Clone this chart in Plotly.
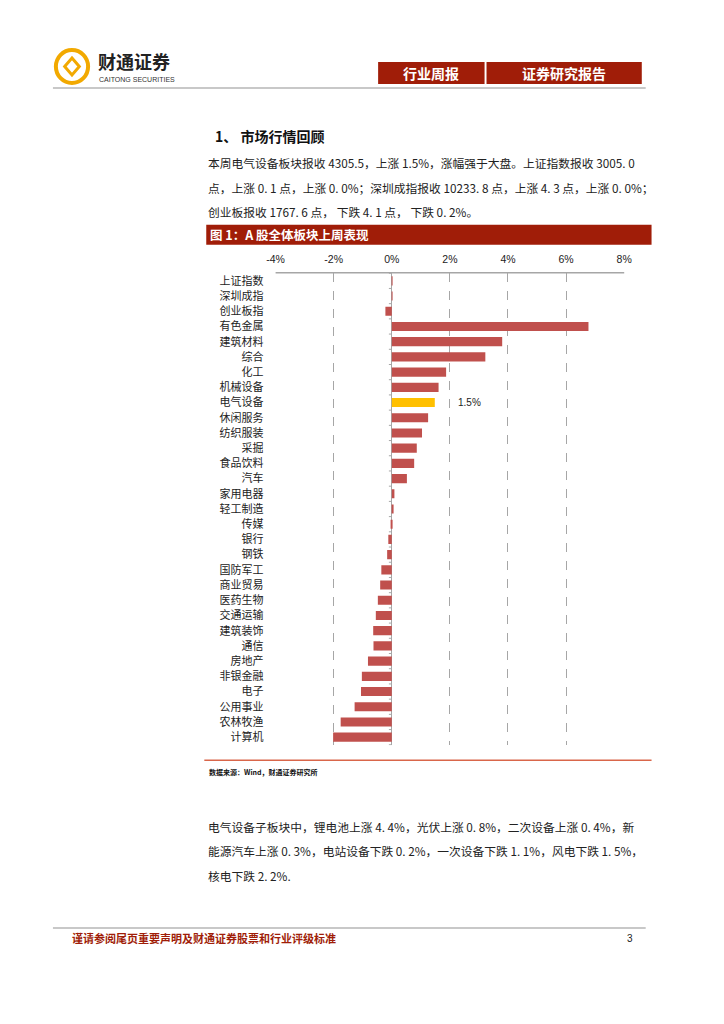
import plotly.graph_objects as go

W, H = 724, 1024

categories = ["上证指数", "深圳成指", "创业板指", "有色金属", "建筑材料", "综合", "化工",
              "机械设备", "电气设备", "休闲服务", "纺织服装", "采掘", "食品饮料", "汽车",
              "家用电器", "轻工制造", "传媒", "银行", "钢铁", "国防军工", "商业贸易",
              "医药生物", "交通运输", "建筑装饰", "通信", "房地产", "非银金融", "电子",
              "公用事业", "农林牧渔", "计算机"]
values = [0.02, 0.02, -0.22, 6.77, 3.80, 3.22, 1.87, 1.61, 1.48, 1.25, 1.04, 0.86, 0.77,
          0.52, 0.09, 0.03, -0.04, -0.12, -0.16, -0.36, -0.40, -0.48, -0.55, -0.64, -0.63,
          -0.82, -1.03, -1.06, -1.28, -1.76, -2.02]
highlight = "电气设备"
highlight_label = "1.5%"
x_ticks = [-4, -2, 0, 2, 4, 6, 8]
x_tick_text = ["-4%", "-2%", "0%", "2%", "4%", "6%", "8%"]

RED = "#C0504D"
GOLD = "#FFC000"
DARKRED = "#A01D08"
CJK = "Noto Sans CJK SC"


def px(x):
    return x / W


def py(y):
    return 1 - y / H


colors = [GOLD if c == highlight else RED for c in categories]

fig = go.Figure()
fig.add_trace(go.Bar(
    x=values, y=categories, orientation="h",
    marker=dict(color=colors, line=dict(width=0)),
    width=0.6, hoverinfo="x+y",
))

shapes = []
annotations = []


def text(x, y, t, size, color="#222222", family=CJK, xanchor="left"):
    if xanchor == "left":
        x -= 4
    annotations.append(dict(x=px(x), y=py(y), xref="paper", yref="paper",
                            xanchor=xanchor, yanchor="middle", text=t, showarrow=False,
                            borderpad=0, font=dict(family=family, size=size, color=color)))


# header: logo
shapes.append(dict(type="circle", xref="paper", yref="paper",
                   x0=px(48), x1=px(81), y0=py(82), y1=py(49),
                   line=dict(color="#F2A900", width=4)))
shapes.append(dict(type="path", xref="paper", yref="paper",
                   path=f"M {px(64.5)} {py(57)} L {px(72)} {py(65.5)} L {px(64.5)} {py(74)} L {px(57)} {py(65.5)} Z",
                   line=dict(color="#F2A900", width=3), fillcolor="white"))
text(94, 60, "<b>财通证券</b>", 18, "#222222")
text(95, 79, "CAITONG SECURITIES", 7, "#333333", "Liberation Sans")
# header red boxes
for x0, x1, txt in [(378, 487, "行业周报"), (489, 648, "证券研究报告")]:
    shapes.append(dict(type="rect", xref="paper", yref="paper", x0=px(x0), x1=px(x1),
                       y0=py(83), y1=py(61), fillcolor=DARKRED, line=dict(width=0)))
    text((x0 + x1) / 2, 72, f"<b>{txt}</b>", 14, "white", xanchor="center")
shapes.append(dict(type="line", xref="paper", yref="paper", x0=px(45), x1=px(652),
                   y0=py(87), y1=py(87), line=dict(color="#C8C8C8", width=2)))

# section title
text(214, 135, "<b>1、 市场行情回顾</b>", 14, "#111111")
para1 = ["本周电气设备板块报收 4305.5，上涨 1.5%，涨幅强于大盘。上证指数报收 3005. 0",
         "点，上涨 0. 1 点，上涨 0. 0%；深圳成指报收 10233. 8 点，上涨 4. 3 点，上涨 0. 0%；",
         "创业板报收 1767. 6 点， 下跌 4. 1 点， 下跌 0. 2%。"]
for i, line in enumerate(para1):
    text(207, 162 + i * 24.5, line, 11.75)

# figure title bar
shapes.append(dict(type="rect", xref="paper", yref="paper", x0=px(202), x1=px(658),
                   y0=py(244), y1=py(224), fillcolor=DARKRED, line=dict(width=0)))
text(209, 234, "<b>图 1：A 股全体板块上周表现</b>", 12.5, "white")

# chart frame top line
shapes.append(dict(type="line", xref="paper", yref="paper", x0=px(273), x1=px(630),
                   y0=py(272), y1=py(272), line=dict(color="#A6A6A6", width=1.5)))
# small tick marks on the zero axis at category boundaries
for k in range(len(categories) + 1):
    shapes.append(dict(type="line", xref="x", yref="y", x0=-0.1, x1=0,
                       y0=k - 0.5, y1=k - 0.5, line=dict(color="#A6A6A6", width=1)))

# highlight label
hi = categories.index(highlight)
annotations.append(dict(x=2.2, y=categories[hi], xref="x", yref="y", xanchor="left", yanchor="middle",
                        text=highlight_label, showarrow=False,
                        font=dict(family="Liberation Sans", size=10, color="#222222")))

# source line
shapes.append(dict(type="line", xref="paper", yref="paper", x0=px(200), x1=px(658),
                   y0=py(760), y1=py(760), line=dict(color="#D9664A", width=1.5)))
text(208, 772, "<b>数据来源：Wind，财通证券研究所</b>", 7, "#111111")

para2 = ["电气设备子板块中，锂电池上涨 4. 4%，光伏上涨 0. 8%，二次设备上涨 0. 4%，新",
         "能源汽车上涨 0. 3%，电站设备下跌 0. 2%，一次设备下跌 1. 1%，风电下跌 1. 5%，",
         "核电下跌 2. 2%."]
for i, line in enumerate(para2):
    text(207, 826 + i * 24.5, line, 11.75)

# footer
shapes.append(dict(type="line", xref="paper", yref="paper", x0=px(45), x1=px(652),
                   y0=py(928), y1=py(928), line=dict(color="#C8C8C8", width=2)))
text(68, 938, "<b>谨请参阅尾页重要声明及财通证券股票和行业评级标准</b>", 11, DARKRED)
text(636, 938, "3", 10, "#222222", "Liberation Sans", xanchor="center")

fig.update_layout(
    width=W, height=H, autosize=False,
    margin=dict(l=0, r=0, t=0, b=0),
    paper_bgcolor="white", plot_bgcolor="white",
    showlegend=False,
    shapes=shapes, annotations=annotations,
    xaxis=dict(domain=[px(273), px(630)], range=[-4, 8], side="top",
               tickvals=x_ticks, ticktext=x_tick_text,
               tickfont=dict(family="Liberation Sans", size=10.5, color="#222222"),
               showgrid=True, gridcolor="#A6A6A6", griddash="dash", gridwidth=1,
               zeroline=True, zerolinecolor="#A6A6A6", zerolinewidth=1.2,
               showline=False, ticks="", ticklabelstandoff=7, fixedrange=True),
    yaxis=dict(domain=[py(745), py(272)], autorange="reversed",
               categoryorder="array", categoryarray=categories,
               tickfont=dict(family=CJK, size=11, color="#222222"),
               showgrid=False, zeroline=False, showline=False, ticks="",
               ticklabelstandoff=11, fixedrange=True),
    bargap=0.4,
)

fig.write_html("out.html", config={"displayModeBar": False},
               post_script="document.body.style.margin='0';document.body.style.padding='0';")
